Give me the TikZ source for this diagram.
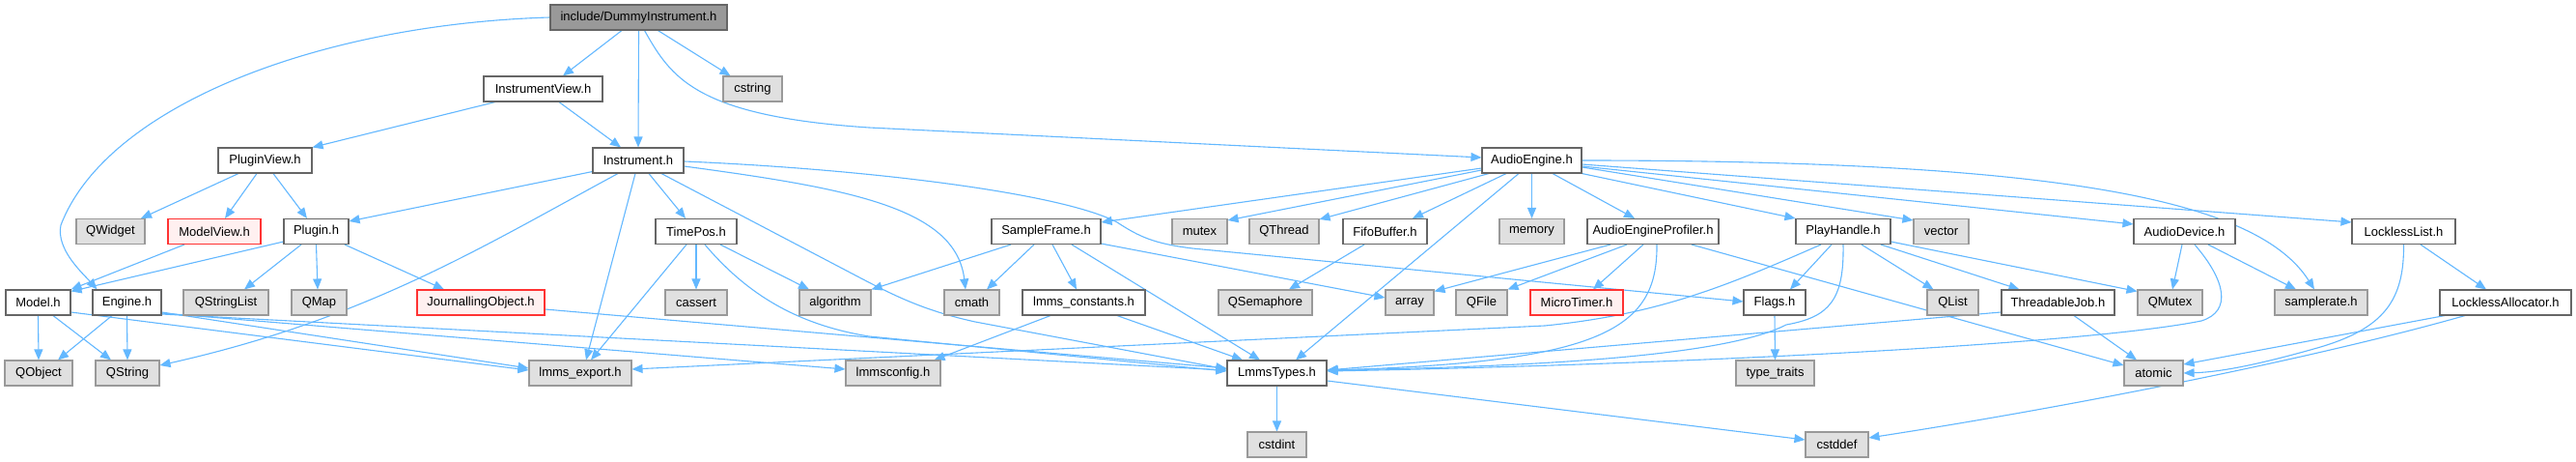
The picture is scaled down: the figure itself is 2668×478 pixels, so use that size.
\documentclass[tikz,border=0pt]{standalone}
\usepackage{fontspec}
\setmainfont{Liberation Sans}
\usetikzlibrary{arrows.meta}
\definecolor{cdark}{HTML}{666666}
\definecolor{cmid}{HTML}{999999}
\definecolor{cgray}{HTML}{E0E0E0}
\definecolor{redb}{HTML}{FF3333}
\definecolor{redf}{HTML}{FFF0F0}
\definecolor{edgec}{HTML}{63B8FF}
\pgfdeclarelayer{bg}
\pgfdeclarelayer{paper}
\pgfsetlayers{paper,bg,main}
\tikzset{
  box/.style={rectangle, minimum height=26pt, inner sep=0pt, line width=1.1pt, font=\fontsize{13}{15}\selectfont},
  wbox/.style={box, draw=cdark, fill=white},
  gbox/.style={box, draw=cmid, fill=cgray},
  rbox/.style={box, draw=redb, fill=redf},
  tbox/.style={box, draw=cdark, fill=cmid},
  dep/.style={draw=edgec, line width=1.1pt, -{Triangle[length=11pt,width=9pt]}},
}
\begin{document}
\begin{tikzpicture}[x=1pt,y=-1pt]
\begin{pgfonlayer}{paper}
\fill[white] (0,0) rectangle (2668,478);
\end{pgfonlayer}
\useasboundingbox (0,0) rectangle (2668,478);
% row 0-2
\node[tbox, minimum width=183pt] (top) at (661.5,18) {include/DummyInstrument.h};
\node[wbox, minimum width=123pt] (iview) at (562.5,92) {InstrumentView.h};
\node[gbox, minimum width=61pt] (cstring) at (779.5,92) {cstring};
\node[wbox, minimum width=97pt] (pview) at (274.5,166) {PluginView.h};
\node[wbox, minimum width=94pt] (instr) at (661,166) {Instrument.h};
\node[wbox, minimum width=103pt] (aeng) at (1586.5,166) {AudioEngine.h};
% row 3
\node[gbox, minimum width=71pt] (qwidget) at (114.5,239.5) {QWidget};
\node[rbox, minimum width=96pt] (mview) at (222,239.5) {ModelView.h};
\node[wbox, minimum width=67pt] (plugin) at (327.5,239.5) {Plugin.h};
\node[wbox, minimum width=84pt] (timepos) at (721,239.5) {TimePos.h};
\node[wbox, minimum width=113pt] (sframe) at (1083.5,239.5) {SampleFrame.h};
\node[gbox, minimum width=57pt] (mutex) at (1242.5,239.5) {mutex};
\node[gbox, minimum width=72pt] (qthread) at (1330,239.5) {QThread};
\node[wbox, minimum width=87pt] (fifo) at (1434.5,239.5) {FifoBuffer.h};
\node[gbox, minimum width=67pt] (memory) at (1586.5,239.5) {memory};
\node[wbox, minimum width=136pt] (aeprof) at (1712,239.5) {AudioEngineProfiler.h};
\node[wbox, minimum width=98pt] (phandle) at (1909,239.5) {PlayHandle.h};
\node[gbox, minimum width=57pt] (vector) at (2010.5,239.5) {vector};
\node[wbox, minimum width=105pt] (adev) at (2262.5,239.5) {AudioDevice.h};
\node[wbox, minimum width=107pt] (llist) at (2489.5,239.5) {LocklessList.h};
% row 4
\node[wbox, minimum width=67pt] (model) at (39.5,313) {Model.h};
\node[wbox, minimum width=71pt] (engine) at (131.5,313) {Engine.h};
\node[gbox, minimum width=88pt] (qstrlist) at (234,313) {QStringList};
\node[gbox, minimum width=57pt] (qmap) at (330.5,313) {QMap};
\node[rbox, minimum width=132pt] (jobj) at (498,313) {JournallingObject.h};
\node[gbox, minimum width=64pt] (cassert) at (721,313) {cassert};
\node[gbox, minimum width=74pt] (algorithm) at (865,313) {algorithm};
\node[gbox, minimum width=57pt] (cmath) at (1006.5,313) {cmath};
\node[wbox, minimum width=127pt] (lconst) at (1122.5,313) {lmms\_constants.h};
\node[gbox, minimum width=97pt] (qsem) at (1310.5,313) {QSemaphore};
\node[gbox, minimum width=50pt] (array) at (1460,313) {array};
\node[gbox, minimum width=53pt] (qfile) at (1534.5,313) {QFile};
\node[rbox, minimum width=96pt] (mtimer) at (1633,313) {MicroTimer.h};
\node[wbox, minimum width=64pt] (flags) at (1838,313) {Flags.h};
\node[gbox, minimum width=53pt] (qlist) at (2022.5,313) {QList};
\node[wbox, minimum width=117pt] (tjob) at (2131.5,313) {ThreadableJob.h};
\node[gbox, minimum width=67pt] (qmutex) at (2247.5,313) {QMutex};
\node[gbox, minimum width=96pt] (srate) at (2404,313) {samplerate.h};
\node[wbox, minimum width=136pt] (lalloc) at (2595,313) {LocklessAllocator.h};
% row 5
\node[gbox, minimum width=70pt] (qobject) at (40,386) {QObject};
\node[gbox, minimum width=66pt] (qstring) at (132,386) {QString};
\node[gbox, minimum width=106pt] (lexport) at (601,386) {lmms\_export.h};
\node[gbox, minimum width=98pt] (lconfig) at (925,386) {lmmsconfig.h};
\node[wbox, minimum width=103pt] (ltypes) at (1322.5,386) {LmmsTypes.h};
\node[gbox, minimum width=81pt] (ttraits) at (1838.5,386) {type\_traits};
\node[gbox, minimum width=61pt] (atomic) at (2230.5,386) {atomic};
% row 6
\node[gbox, minimum width=61pt] (cstdint) at (1322.5,460) {cstdint};
\node[gbox, minimum width=65pt] (cstddef) at (1902.5,460) {cstddef};

\begin{pgfonlayer}{bg}
% DummyInstrument
\draw[dep] ([xshift=-17.5pt]top.south) -- ([xshift=20.5pt]iview.north);
\draw[dep] (top.south) -- (instr.north);
\draw[dep] ([xshift=20pt]top.south) -- ([xshift=-23pt]cstring.north);
\draw[dep] ([xshift=6pt]top.south) .. controls (695,80) and (720,120) .. (900,132) -- ([yshift=3pt]aeng.west);
\draw[dep] (top.west) .. controls (330,25) and (110,110) .. (63,233) .. controls (58,258) and (85,282) .. ([xshift=-31pt]engine.north);
% InstrumentView
\draw[dep] ([xshift=-49.5pt]iview.south) -- (pview.north east);
\draw[dep] ([xshift=16.5pt]iview.south) -- ([xshift=-18pt]instr.north);
% PluginView
\draw[dep] ([xshift=-27.5pt]pview.south) -- ([xshift=31.5pt]qwidget.north);
\draw[dep] ([xshift=-8.5pt]pview.south) -- ([xshift=11pt]mview.north);
\draw[dep] ([xshift=8.5pt]pview.south) -- ([xshift=-9.5pt]plugin.north);
% ModelView, Plugin
\draw[dep] ([xshift=-31pt]mview.south) -- (model.north east);
\draw[dep] ([yshift=3pt]plugin.south west) -- ([yshift=-2pt]model.north east);
\draw[dep] ([xshift=-15.5pt]plugin.south) -- ([xshift=19pt]qstrlist.north);
\draw[dep] (plugin.south) -- ([xshift=-1.5pt]qmap.north);
\draw[dep] ([xshift=29.5pt]plugin.south) -- ([xshift=-38pt]jobj.north);
% Instrument
\draw[dep] ([yshift=2pt]instr.south west) -- ([yshift=-3pt]plugin.north east);
\draw[dep] ([xshift=11pt]instr.south) -- ([xshift=-11pt]timepos.north);
\draw[dep] ([xshift=-3pt]instr.south) -- ([xshift=6pt]lexport.north);
\draw[dep] ([xshift=-21pt]instr.south) .. controls (500,255) and (380,330) .. ([yshift=8pt]qstring.east);
\draw[dep] ([yshift=-6pt]instr.east) .. controls (880,195) and (990,215) .. ([xshift=-6.5pt]cmath.north);
\draw[dep] ([xshift=24pt]instr.south) -- (890,287) .. controls (930,308) and (960,322) .. (1010,333) -- ([yshift=4pt]ltypes.west);
\draw[dep] ([yshift=-1pt]instr.east) .. controls (900,175) and (1100,200) .. (1157,230) .. controls (1180,245) and (1195,252) .. (1235,257) -- ([yshift=1pt]flags.west);
% Model, Engine
\draw[dep] (model.south) -- (qobject.north);
\draw[dep] ([xshift=15.5pt]model.south) -- ([xshift=-17pt]qstring.north);
\draw[dep] ([xshift=-15.5pt]engine.south) -- ([xshift=20pt]qobject.north);
\draw[dep] (engine.south) -- (qstring.north);
\draw[dep] ([yshift=-10pt]model.east) -- ([yshift=3pt]lexport.west);
\draw[dep] ([yshift=-10pt]engine.east) -- ([yshift=5pt]lexport.west);
\draw[dep] ([yshift=-11pt]engine.east) -- ([yshift=4pt]lconfig.west);
\draw[dep] ([yshift=-12pt]engine.east) -- ([yshift=3pt]ltypes.west);
% JournallingObject
\draw[dep] ([yshift=-7pt]jobj.east) -- ([yshift=5pt]ltypes.west);
% TimePos
\draw[dep] (timepos.south) -- (cassert.north);
\draw[dep] ([xshift=25pt]timepos.south) -- ([xshift=-27pt]algorithm.north);
\draw[dep] ([xshift=-10pt]timepos.south) -- ([xshift=11pt]lexport.north);
\draw[dep] ([xshift=9pt]timepos.south) .. controls (770,300) and (820,335) .. (900,348) -- ([yshift=2pt]ltypes.west);
% SampleFrame
\draw[dep] ([xshift=-36.5pt]sframe.south) -- (algorithm.north east);
\draw[dep] ([xshift=-12.5pt]sframe.south) -- ([xshift=15.5pt]cmath.north);
\draw[dep] ([xshift=6.5pt]sframe.south) -- ([xshift=-7.5pt]lconst.north);
\draw[dep] ([xshift=26.5pt]sframe.south) -- ([xshift=-17.5pt]ltypes.north);
\draw[dep] ([yshift=1pt]sframe.south east) -- ([yshift=5pt]array.west);
% lmms_constants
\draw[dep] ([xshift=-34.5pt]lconst.south) -- ([xshift=-7pt]lconfig.north east);
\draw[dep] ([xshift=34.5pt]lconst.south) -- ([xshift=-35.5pt]ltypes.north);
% AudioEngine
\draw[dep] ([yshift=-8pt]aeng.west) -- ([yshift=-4pt]sframe.north east);
\draw[dep] ([yshift=-10pt]aeng.west) -- ([yshift=-2pt]mutex.north east);
\draw[dep] ([xshift=-44.5pt]aeng.south) -- ([yshift=-1pt]qthread.north east);
\draw[dep] ([xshift=-26.5pt]aeng.south) -- ([xshift=28.5pt]fifo.north);
\draw[dep] ([xshift=-13.5pt]aeng.south) -- ([xshift=19.5pt]ltypes.north);
\draw[dep] (aeng.south) -- (memory.north);
\draw[dep] ([xshift=21.5pt]aeng.south) -- ([xshift=-19pt]aeprof.north);
\draw[dep] (aeng.south east) -- (phandle.north west);
\draw[dep] ([yshift=-7pt]aeng.east) -- ([yshift=-2pt]vector.north west);
\draw[dep] ([yshift=-6pt]aeng.east) -- ([yshift=-6pt]adev.north west);
\draw[dep] ([yshift=-4pt]aeng.east) -- ([yshift=-4pt]llist.north west);
\draw[dep] (aeng.east) .. controls (2150,166) and (2340,210) .. ([xshift=-7pt]srate.north);
% FifoBuffer
\draw[dep] ([xshift=-21.5pt]fifo.south) -- ([xshift=24.5pt]qsem.north);
% AudioEngineProfiler
\draw[dep] ([xshift=-44pt]aeprof.south) -- ([yshift=-2pt]array.north east);
\draw[dep] ([xshift=-27pt]aeprof.south) -- (qfile.north east);
\draw[dep] ([xshift=-10pt]aeprof.south) -- ([xshift=17pt]mtimer.north);
\draw[dep] ([xshift=4pt]aeprof.south) .. controls (1717,340) and (1660,375) .. ([yshift=3pt]ltypes.east);
\draw[dep] ([xshift=40pt]aeprof.south) -- ([yshift=8pt]atomic.west);
% PlayHandle
\draw[dep] ([xshift=-12pt]phandle.south) -- ([xshift=16pt]flags.north);
\draw[dep] ([xshift=19pt]phandle.south) -- ([xshift=-20pt]qlist.north);
\draw[dep] ([xshift=39pt]phandle.south) -- ([xshift=-40pt]tjob.north);
\draw[dep] ([yshift=3pt]phandle.south east) -- ([yshift=-2pt]qmutex.north west);
\draw[dep] ([xshift=-23pt]phandle.south) .. controls (1790,295) and (1720,325) .. (1600,337) -- ([yshift=4pt]lexport.east);
\draw[dep] (phandle.south) .. controls (1910,310) and (1895,328) .. (1850,336) .. controls (1780,372) and (1550,380) .. ([yshift=3pt]ltypes.east);
% ThreadableJob
\draw[dep] ([yshift=-10pt]tjob.west) -- ([yshift=3pt]ltypes.east);
\draw[dep] ([xshift=16.5pt]tjob.south) -- ([xshift=-17.5pt]atomic.north);
% Flags
\draw[dep] (flags.south) -- (ttraits.north);
% AudioDevice
\draw[dep] ([xshift=-2.5pt]adev.south) -- ([xshift=2.5pt]qmutex.north);
\draw[dep] ([xshift=24.5pt]adev.south) -- ([xshift=-26pt]srate.north);
\draw[dep] ([xshift=10.5pt]adev.south) .. controls (2305,290) and (2312,322) .. (2280,332) .. controls (2150,358) and (1700,378) .. ([yshift=2pt]ltypes.east);
% LocklessList, LocklessAllocator
\draw[dep] ([xshift=17.5pt]llist.south) -- ([xshift=-20pt]lalloc.north);
\draw[dep] (llist.south) .. controls (2490,310) and (2470,340) .. (2400,360) .. controls (2340,377) and (2300,385) .. (atomic.east);
\draw[dep] ([xshift=-63pt]lalloc.south) -- ([yshift=9pt]atomic.east);
\draw[dep] ([xshift=-42pt]lalloc.south) .. controls (2400,370) and (2150,420) .. ([yshift=7pt]cstddef.east);
% LmmsTypes
\draw[dep] (ltypes.south) -- (cstdint.north);
\draw[dep] ([yshift=-8pt]ltypes.east) -- ([yshift=5pt]cstddef.west);
\end{pgfonlayer}
\end{tikzpicture}
\end{document}
